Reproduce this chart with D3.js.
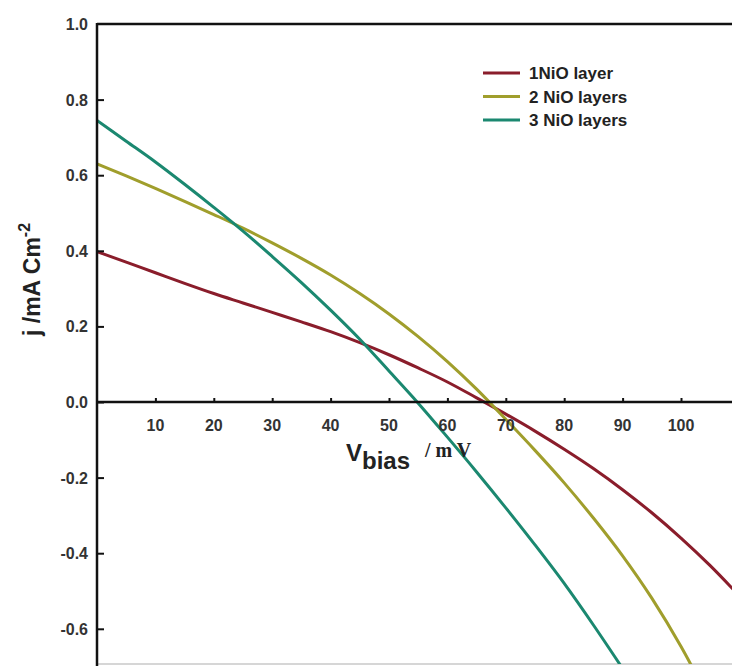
<!DOCTYPE html>
<html><head><meta charset="utf-8">
<script src="https://cdn.jsdelivr.net/npm/d3@7/dist/d3.min.js"></script>
<style>body{margin:0;background:#fff}svg{display:block}</style>
</head><body>
<svg id="c" width="732" height="666"></svg>
<script>
const seriesNames = ["1NiO layer", "2 NiO layers", "3 NiO layers"];
const seriesColors = ["#8a1d2b", "#a09e2c", "#1b8870"];
const bias1 = [0,5,10,15,20,25,30,35,40,45,50,55,60,65,70,75,80,85,90,95,100,105,110];
const j1 = [0.398,0.37,0.342,0.314,0.287,0.262,0.237,0.212,0.186,0.157,0.125,0.09,0.053,0.011,-0.032,-0.077,-0.125,-0.176,-0.232,-0.293,-0.36,-0.433,-0.513];
const bias2 = [0,5,10,15,20,25,30,35,40,45,50,55,60,65,70,75,80,85,90,95,100,105];
const j2 = [0.63,0.598,0.565,0.531,0.496,0.46,0.421,0.38,0.336,0.287,0.233,0.173,0.107,0.034,-0.046,-0.128,-0.214,-0.307,-0.407,-0.519,-0.647,-0.792];
const bias3 = [0,5,10,15,20,25,30,35,40,45,50,55,60,65,70,75,80,85,90];
const j3 = [0.745,0.69,0.635,0.576,0.515,0.452,0.385,0.316,0.243,0.166,0.082,-0.003,-0.093,-0.185,-0.28,-0.378,-0.48,-0.59,-0.705];
const xTicks = [10,20,30,40,50,60,70,80,90,100];
const yTicks = [-0.6,-0.4,-0.2,0.0,0.2,0.4,0.6,0.8,1.0];

(function(){
const svg = d3.select("#c");
const x = d3.scaleLinear().domain([0,110]).range([97, 97+110*5.84]);
const y = d3.scaleLinear().domain([-0.6,1.0]).range([628.8,24]);
const pL = 97, pR = 732, pT = 24, pB = 664;
const font = "'Liberation Sans', Arial, sans-serif";

svg.append("defs").append("clipPath").attr("id","clip")
  .append("rect").attr("x",pL).attr("y",pT).attr("width",pR-pL).attr("height",pB-pT);

svg.append("line").attr("x1",pL).attr("x2",pR).attr("y1",pB).attr("y2",pB)
  .attr("stroke","#c8c8c8").attr("stroke-width",1.5);

const data = [[bias1,j1],[bias2,j2],[bias3,j3]];
const line = d3.line().x(d=>x(d[0])).y(d=>y(d[1])).curve(d3.curveMonotoneX);
const g = svg.append("g").attr("clip-path","url(#clip)");
data.forEach((s,i)=>{
  const pts = s[0].map((b,k)=>[b,s[1][k]]);
  g.append("path").datum(pts).attr("d",line).attr("fill","none")
    .attr("stroke",seriesColors[i]).attr("stroke-width",3);
});

const xAxis = d3.axisTop(x).tickValues(xTicks).tickSize(4).tickFormat("");
const xa = svg.append("g").attr("transform",`translate(0,${y(0)})`).call(xAxis);
xa.select(".domain").remove();
xa.selectAll(".tick line").attr("stroke","#111").attr("stroke-width",2);
svg.append("line").attr("x1",pL).attr("x2",pR).attr("y1",y(0)).attr("y2",y(0))
  .attr("stroke","#111").attr("stroke-width",2.5);
svg.selectAll(".xl").data(xTicks).enter().append("text").attr("class","xl")
  .attr("x",d=>x(d)).attr("y",y(0)+29).attr("text-anchor","middle")
  .attr("font-family",font).attr("font-weight","bold").attr("font-size",16).attr("fill","#333")
  .text(d=>d);

const yAxis = d3.axisRight(y).tickValues(yTicks.filter(v=>v<1)).tickSize(7).tickFormat("");
const ya = svg.append("g").attr("transform",`translate(${pL},0)`).call(yAxis);
ya.select(".domain").remove();
ya.selectAll(".tick line").attr("stroke","#111").attr("stroke-width",2);
svg.append("line").attr("x1",pL).attr("x2",pL).attr("y1",pT-1).attr("y2",pB+2)
  .attr("stroke","#111").attr("stroke-width",2.5);
svg.append("line").attr("x1",pL).attr("x2",pR).attr("y1",pT).attr("y2",pT)
  .attr("stroke","#111").attr("stroke-width",2.5);
svg.selectAll(".yl").data(yTicks).enter().append("text").attr("class","yl")
  .attr("x",88).attr("y",d=>y(d)+6).attr("text-anchor","end")
  .attr("font-family",font).attr("font-weight","bold").attr("font-size",16).attr("fill","#333")
  .text(d=>d3.format(".1f")(d).replace("−","-"));

const yl = svg.append("text").attr("transform","translate(40,336) rotate(-90)")
  .attr("font-family",font).attr("font-weight","bold").attr("font-size",23).attr("fill","#222");
yl.append("tspan").text("j /mA Cm");
yl.append("tspan").attr("dy",-10).attr("font-size",16).text("-2");

const xl = svg.append("text").attr("x",346).attr("y",461)
  .attr("font-family",font).attr("font-weight","bold").attr("font-size",24).attr("fill","#222");
xl.append("tspan").text("V");
xl.append("tspan").attr("dy",8).text("bias");
svg.append("text").attr("x",425).attr("y",457)
  .attr("font-family","'Liberation Serif','Times New Roman',serif").attr("font-weight","bold")
  .attr("font-size",20).attr("fill","#222").text("/ m V");

const lg = svg.append("g");
seriesNames.forEach((n,i)=>{
  const yy = 73 + i*23.5;
  lg.append("line").attr("x1",483).attr("x2",520).attr("y1",yy).attr("y2",yy)
    .attr("stroke",seriesColors[i]).attr("stroke-width",3);
  lg.append("text").attr("x",529).attr("y",yy+6).attr("font-family",font)
    .attr("font-weight","bold").attr("font-size",17).attr("fill","#222").text(n);
});
})();
</script>
</body></html>
